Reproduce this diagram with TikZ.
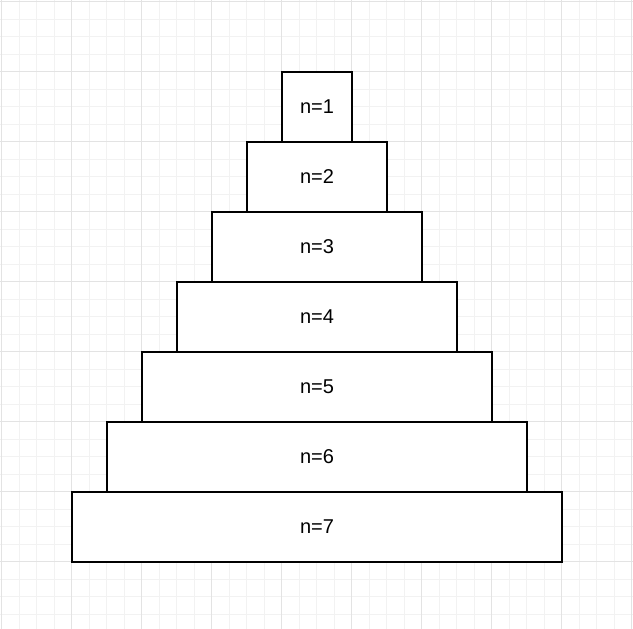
\documentclass[tikz,border=0pt]{standalone}
\usepackage{fontspec}
\setmainfont{Liberation Sans}
\definecolor{gridminor}{HTML}{F2F2F2}
\definecolor{gridmajor}{HTML}{E3E3E3}
\tikzset{
	layer/.style={rectangle, draw=black, line width=1.5pt, fill=white, inner sep=0pt, outer sep=0pt, minimum height=70pt, font=\fontsize{20}{24}\selectfont},
	minorline/.style={draw=gridminor, line width=1pt},
	majorline/.style={draw=gridmajor, line width=1pt}
}
\begin{document}
\begin{tikzpicture}[x=1pt, y=-1pt]
	\useasboundingbox (0,0) rectangle (633,629);
	% background grid
	\foreach \k in {0,...,36} {
		\draw[minorline] ({1.5+17.5*\k},0) -- ({1.5+17.5*\k},629);
		\draw[minorline] (0,{1.5+17.5*\k}) -- (633,{1.5+17.5*\k});
	}
	\foreach \k in {0,...,9} {
		\draw[majorline] ({1.5+70*\k},0) -- ({1.5+70*\k},629);
		\draw[majorline] (0,{1.5+70*\k}) -- (633,{1.5+70*\k});
	}
	% stacked layers
	\node[layer, minimum width=70pt] at (317,107) (N1) {n=1};
	\foreach \n in {2,...,7} {
		\pgfmathtruncatemacro{\m}{\n-1}
		\node[layer, minimum width=70*\n pt, anchor=north] at (N\m.south) (N\n) {n=\n};
	}
\end{tikzpicture}
\end{document}
